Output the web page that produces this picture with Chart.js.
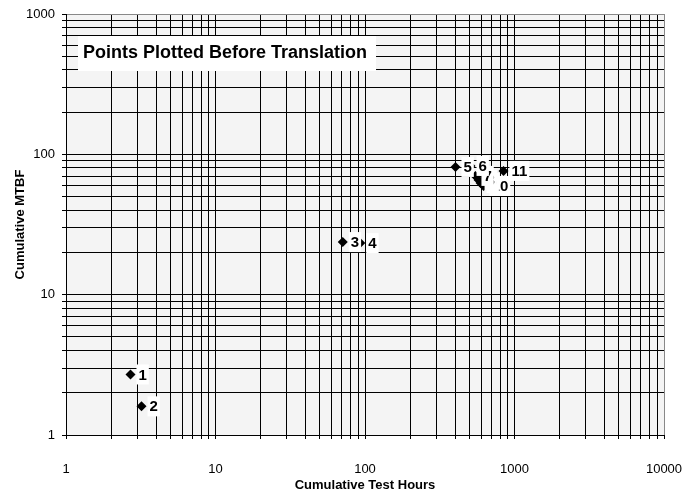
<!DOCTYPE html>
<html>
<head>
<meta charset="utf-8">
<script src="https://cdn.jsdelivr.net/npm/chart.js@4"></script>
<style>
  html, body { margin: 0; padding: 0; background: #fff; }
  #wrap { width: 697px; height: 493px; }
</style>
</head>
<body>
<div id="wrap"><canvas id="mtbfChart" width="697" height="493"></canvas></div>
<script>
// data
const pointLabels = ['1', '2', '3', '4', '5', '6', '7', '8', '9', '10', '11'];
const testHours = [2.7, 3.2, 71, 93, 403, 508, 548, 575, 593, 621, 844];
const cumMTBF = [2.7, 1.6, 23.7, 23.3, 81.3, 82.7, 70.2, 65.7, 62.5, 59.5, 76.2];

const xTickLabels = ['1', '10', '100', '1000', '10000'];
const yTickLabels = ['1', '10', '100', '1000'];

const chartTitle = 'Points Plotted Before Translation';
const xTitle = 'Cumulative Test Hours';
const yTitle = 'Cumulative MTBF';

const FONT = '"Liberation Sans", Arial, sans-serif';

// 1..9 x every decade between min and max
function logGridValues(min, max) {
  const vals = [];
  for (let e = Math.log10(min); e < Math.log10(max); e++) {
    for (let s = 1; s < 10; s++) vals.push(s * Math.pow(10, e));
  }
  vals.push(max);
  return vals;
}

const plotBackground = {
  id: 'plotBackground',
  beforeDraw(chart) {
    const { ctx, chartArea: a } = chart;
    ctx.save();
    ctx.fillStyle = '#f4f4f4';
    ctx.fillRect(a.left, a.top, a.right - a.left, a.bottom - a.top);
    ctx.restore();
  }
};

// labels with white boxes, last point first so earlier ones sit on top
const pointTags = {
  id: 'pointTags',
  afterDatasetsDraw(chart) {
    const ctx = chart.ctx;
    const meta = chart.getDatasetMeta(0);
    ctx.save();
    ctx.font = 'bold 15px ' + FONT;
    ctx.textBaseline = 'middle';
    ctx.textAlign = 'left';
    for (let i = meta.data.length - 1; i >= 0; i--) {
      const pt = meta.data[i];
      const txt = pointLabels[i];
      const w = ctx.measureText(txt).width;
      ctx.fillStyle = '#fff';
      ctx.fillRect(pt.x + 6, pt.y - 10, w + 4, 20);
      ctx.fillStyle = '#000';
      ctx.fillText(txt, pt.x + 8, pt.y + 1);
    }
    ctx.restore();
  }
};

const titleBox = {
  id: 'titleBox',
  afterDraw(chart) {
    const { ctx, chartArea: a } = chart;
    ctx.save();
    ctx.font = 'bold 18px ' + FONT;
    const w = ctx.measureText(chartTitle).width;
    const x = a.left + 12, y = a.top + 22;
    ctx.fillStyle = '#fff';
    ctx.fillRect(x, y, w + 14, 35);
    ctx.fillStyle = '#000';
    ctx.textBaseline = 'middle';
    ctx.fillText(chartTitle, x + 5, y + 17);
    ctx.restore();
  }
};

function gridColor(max) {
  return c => (c.tick && c.tick.value === max) ? '#888' : '#000';
}

var ctx = document.getElementById('mtbfChart').getContext('2d');
var mtbfChart = new Chart(ctx, {
  type: 'scatter',
  data: {
    datasets: [{
      data: testHours.map((h, i) => ({ x: h, y: cumMTBF[i] })),
      pointStyle: 'rectRot',
      pointRadius: 5,
      backgroundColor: '#000',
      borderColor: '#000',
      borderWidth: 0
    }]
  },
  options: {
    responsive: false,
    animation: false,
    layout: { padding: { top: 14, right: 33, left: 0, bottom: 0 } },
    plugins: {
      legend: { display: false },
      tooltip: { enabled: false }
    },
    scales: {
      x: {
        type: 'logarithmic',
        min: 1,
        max: 10000,
        afterBuildTicks: s => { s.ticks = logGridValues(1, 10000).map(v => ({ value: v })); },
        afterFit: s => { s.height = 58; s.paddingLeft = 0; s.paddingRight = 0; },
        grid: { color: gridColor(10000), lineWidth: 1, tickLength: 4, tickColor: '#000' },
        border: { color: '#000' },
        ticks: {
          autoSkip: false,
          maxRotation: 0,
          padding: 23,
          color: '#000',
          font: { family: FONT, size: 13 },
          callback: v => xTickLabels.includes(String(v)) ? String(v) : ''
        },
        title: {
          display: true,
          text: xTitle,
          color: '#000',
          padding: { top: 0, bottom: 0 },
          font: { family: FONT, size: 13, weight: 'bold' }
        }
      },
      y: {
        type: 'logarithmic',
        min: 1,
        max: 1000,
        afterBuildTicks: s => { s.ticks = logGridValues(1, 1000).map(v => ({ value: v })); },
        afterFit: s => { s.width = 66; s.paddingTop = 0; s.paddingBottom = 0; },
        grid: { color: gridColor(1000), lineWidth: 1, tickLength: 4, tickColor: '#000' },
        border: { color: '#000' },
        ticks: {
          autoSkip: false,
          padding: 7,
          color: '#000',
          font: { family: FONT, size: 13 },
          callback: v => yTickLabels.includes(String(v)) ? String(v) : ''
        },
        title: {
          display: true,
          text: yTitle,
          color: '#000',
          padding: { top: 13, bottom: 0 },
          font: { family: FONT, size: 13, weight: 'bold' }
        }
      }
    }
  },
  plugins: [plotBackground, pointTags, titleBox]
});
</script>
</body>
</html>
